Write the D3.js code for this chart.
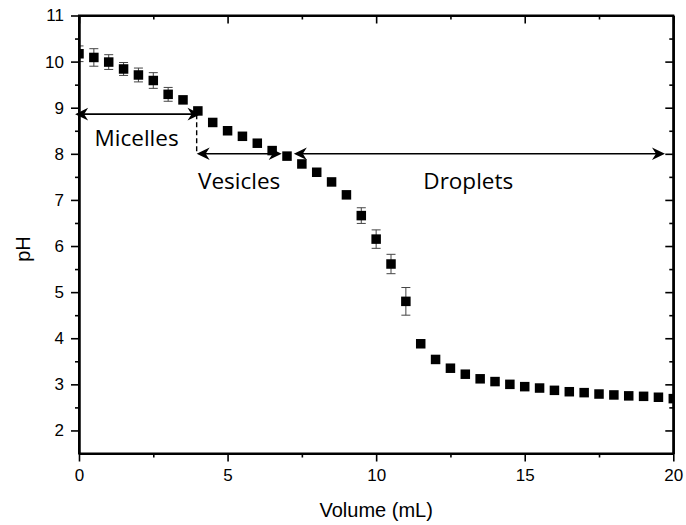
<!DOCTYPE html>
<html>
<head>
<meta charset="utf-8">
<script src="https://cdn.jsdelivr.net/npm/d3@7"></script>
<style>
  html, body { margin: 0; padding: 0; background: #fff; }
  svg { display: block; }
  .axis text { font-family: "Liberation Sans", Arial, sans-serif; font-size: 17px; fill: #000; }
  .axis path, .axis line { stroke: #000; }
</style>
</head>
<body>
<svg id="chart" width="686" height="525"></svg>
<script>
// ---- data ----
const volume = [0,0.5,1,1.5,2,2.5,3,3.5,4,4.5,5,5.5,6,6.5,7,7.5,8,8.5,9,9.5,10,10.5,11,11.5,12,12.5,13,13.5,14,14.5,15,15.5,16,16.5,17,17.5,18,18.5,19,19.5,20];
const ph = [10.17,10.09,9.99,9.84,9.71,9.59,9.29,9.17,8.93,8.68,8.50,8.38,8.23,8.07,7.95,7.78,7.60,7.39,7.11,6.66,6.15,5.61,4.80,3.88,3.54,3.35,3.22,3.12,3.06,3.00,2.95,2.92,2.87,2.84,2.82,2.79,2.77,2.75,2.74,2.72,2.69];
const phErr = [0.17,0.19,0.16,0.14,0.15,0.17,0.15,0,0,0,0,0,0,0,0,0,0,0,0,0.17,0.20,0.21,0.30,0,0,0,0,0,0,0,0,0,0,0,0,0,0,0,0,0,0];
const xTicks = [0,5,10,15,20];
const xMinor = [2.5,7.5,12.5,17.5];
const yTicks = [2,3,4,5,6,7,8,9,10,11];
const yMinor = [2.5,3.5,4.5,5.5,6.5,7.5,8.5,9.5,10.5];
const xLabel = "Volume (mL)";
const yLabel = "pH";
// regions: [label, start volume, end volume, pH level]
const regionNames = ["Micelles","Vesicles","Droplets"];
const regionStart = [-0.13, 3.96, 7.23];
const regionEnd = [4.09, 6.82, 19.72];
const regionPH = [8.86, 8.0, 8.0];
const regionLabelX = [1.94, 5.39, 13.10];   // label centre (volume)
const regionLabelPH = [8.18, 7.24, 7.23];   // label baseline (pH)

// ---- layout ----
const svg = d3.select("#chart");
const L = 79, R = 673.3, T = 15.5, B = 453.5;
const x = d3.scaleLinear().domain([0,20]).range([L,R]);
const y = d3.scaleLinear().domain([1.5,11]).range([B,T]);

svg.append("defs").append("clipPath").attr("id","plotclip")
  .append("rect").attr("x",L).attr("y",T).attr("width",R-L).attr("height",B-T);

// ---- data marks ----
const plot = svg.append("g").attr("clip-path","url(#plotclip)");
const idx = d3.range(volume.length);
const eb = plot.append("g").attr("stroke","#444").attr("stroke-width",1);
idx.filter(i => phErr[i] > 0).forEach(i => {
  const cx = x(volume[i]), y1 = y(ph[i]+phErr[i]), y2 = y(ph[i]-phErr[i]);
  eb.append("line").attr("x1",cx).attr("x2",cx).attr("y1",y1).attr("y2",y2);
  eb.append("line").attr("x1",cx-4.5).attr("x2",cx+4.5).attr("y1",y1).attr("y2",y1);
  eb.append("line").attr("x1",cx-4.5).attr("x2",cx+4.5).attr("y1",y2).attr("y2",y2);
});
const S = 9.5;
plot.append("g").selectAll("rect").data(idx).join("rect")
  .attr("x", i => x(volume[i]) - S/2)
  .attr("y", i => y(ph[i]) - S/2)
  .attr("width", S).attr("height", S)
  .attr("fill", "#000");

// ---- annotations ----
const ann = svg.append("g");
function head(px, py, dir) {
  const l = 13, w = 6.3, n = 9;
  ann.append("path")
    .attr("d", `M${px},${py} L${px - dir*l},${py - w} L${px - dir*n},${py} L${px - dir*l},${py + w} Z`)
    .attr("fill","#000");
}
regionNames.forEach((name, k) => {
  const x1 = x(regionStart[k]), x2 = x(regionEnd[k]), yy = y(regionPH[k]);
  ann.append("line").attr("x1", x1 + 4).attr("x2", x2 - 4).attr("y1", yy).attr("y2", yy)
    .attr("stroke","#000").attr("stroke-width",1.6);
  head(x1, yy, -1);
  head(x2, yy, 1);
  ann.append("text").attr("x", x(regionLabelX[k])).attr("y", y(regionLabelPH[k]))
    .attr("text-anchor","middle")
    .attr("font-family","'Open Sans', sans-serif").attr("font-size","22.5px")
    .attr("fill","#000").text(name);
});
ann.append("line")
  .attr("x1", x(regionStart[1])).attr("x2", x(regionStart[1]))
  .attr("y1", y(regionPH[0])).attr("y2", y(regionPH[1]))
  .attr("stroke","#000").attr("stroke-width",1.4).attr("stroke-dasharray","5,3");

// ---- axes ----
const fmt = d3.format("d");
function styleAxis(g) {
  g.select(".domain").attr("stroke-width", 2);
  g.selectAll(".tick line").attr("stroke-width", 1.6);
}
svg.append("g").attr("class","axis").attr("transform",`translate(0,${B})`)
  .call(d3.axisBottom(x).tickValues(xMinor).tickSize(4).tickSizeOuter(0).tickFormat(""))
  .call(styleAxis);
svg.append("g").attr("class","axis").attr("transform",`translate(0,${B})`)
  .call(d3.axisBottom(x).tickValues(xTicks).tickSize(8).tickPadding(7).tickSizeOuter(0).tickFormat(fmt))
  .call(styleAxis);
svg.append("g").attr("class","axis").attr("transform",`translate(0,${T})`)
  .call(d3.axisBottom(x).tickValues(xMinor).tickSize(4).tickSizeOuter(0).tickFormat(""))
  .call(styleAxis);
svg.append("g").attr("class","axis").attr("transform",`translate(0,${T})`)
  .call(d3.axisBottom(x).tickValues(xTicks).tickSize(8).tickSizeOuter(0).tickFormat(""))
  .call(styleAxis);
svg.append("g").attr("class","axis").attr("transform",`translate(${L},0)`)
  .call(d3.axisLeft(y).tickValues(yMinor).tickSize(4).tickSizeOuter(0).tickFormat(""))
  .call(styleAxis);
svg.append("g").attr("class","axis").attr("transform",`translate(${L},0)`)
  .call(d3.axisLeft(y).tickValues(yTicks).tickSize(8).tickPadding(7).tickSizeOuter(0).tickFormat(fmt))
  .call(styleAxis);
svg.append("g").attr("class","axis").attr("transform",`translate(${R},0)`)
  .call(d3.axisLeft(y).tickValues(yMinor).tickSize(4).tickSizeOuter(0).tickFormat(""))
  .call(styleAxis);
svg.append("g").attr("class","axis").attr("transform",`translate(${R},0)`)
  .call(d3.axisLeft(y).tickValues(yTicks).tickSize(8).tickSizeOuter(0).tickFormat(""))
  .call(styleAxis);
svg.append("rect").attr("x",L).attr("y",T).attr("width",R-L).attr("height",B-T)
  .attr("fill","none").attr("stroke","#000").attr("stroke-width",2);

svg.append("text").attr("x", (L+R)/2).attr("y", 516.5).attr("text-anchor","middle")
  .attr("font-family","'Liberation Sans', Arial, sans-serif").attr("font-size","20px").text(xLabel);
svg.append("text").attr("transform","translate(30,249) rotate(-90)").attr("text-anchor","middle")
  .attr("font-family","'Liberation Sans', Arial, sans-serif").attr("font-size","20px").text(yLabel);
</script>
</body>
</html>
